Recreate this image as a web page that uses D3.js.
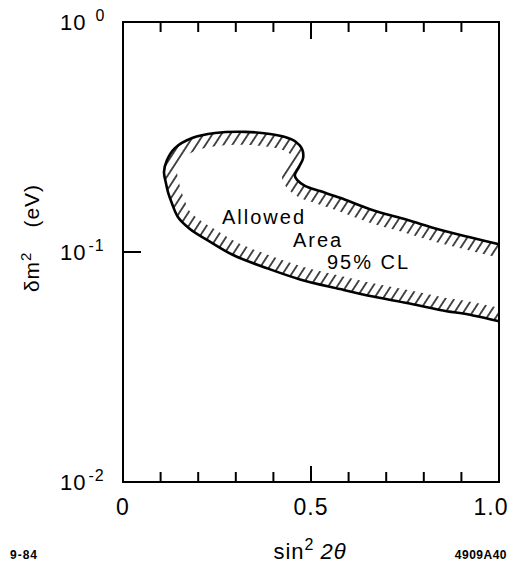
<!DOCTYPE html>
<html>
<head>
<meta charset="utf-8">
<script src="https://cdn.jsdelivr.net/npm/d3@7"></script>
<style>
  html, body { margin: 0; padding: 0; background: #fff; }
  svg { display: block; }
  text { font-family: "Liberation Sans", "DejaVu Sans", sans-serif; fill: #000; }
</style>
</head>
<body>
<svg id="chart" width="525" height="567"></svg>
<script>
// Axis ranges and tick values
const xDomain = [0, 1];
const yDomain = [0.01, 1];
const xMinorTicks = [0.1, 0.2, 0.3, 0.4, 0.6, 0.7, 0.8, 0.9];
const xMajorTicks = [0.5];
const xTickLabels = [{ v: 0, t: "0" }, { v: 0.5, t: "0.5" }, { v: 1.0, t: "1.0" }];
const yTickLabels = [{ v: 1, exp: "0" }, { v: 0.1, exp: "-1" }, { v: 0.01, exp: "-2" }];

// 95% CL allowed contour: upper edge (from sin²2θ = 1 leftwards), around the nose, then lower edge back to sin²2θ = 1
const contourSin2 = [1.0, 0.931, 0.843, 0.755, 0.665, 0.577, 0.524, 0.484, 0.463, 0.457, 0.468, 0.479, 0.476, 0.460, 0.431, 0.391, 0.324, 0.245, 0.184, 0.138, 0.117, 0.109, 0.114, 0.120, 0.130, 0.146, 0.178, 0.231, 0.293, 0.383, 0.471, 0.577, 0.665, 0.755, 0.843, 0.931, 1.0];
const contourDm2  = [0.108, 0.115, 0.125, 0.138, 0.152, 0.172, 0.184, 0.194, 0.206, 0.216, 0.234, 0.256, 0.281, 0.301, 0.316, 0.326, 0.333, 0.329, 0.313, 0.283, 0.251, 0.223, 0.200, 0.181, 0.163, 0.142, 0.126, 0.111, 0.097, 0.085, 0.076, 0.069, 0.064, 0.060, 0.056, 0.053, 0.050];

const svg = d3.select("#chart");
const L = 123, R = 499, T = 22, B = 482;

const x = d3.scaleLinear().domain(xDomain).range([L, R]);
const y = d3.scaleLog().domain(yDomain).range([B, T]);

const pts = contourSin2.map((s, i) => [s, contourDm2[i]]);

// Hatch pattern for the allowed band
const defs = svg.append("defs");
defs.append("pattern")
  .attr("id", "hatch")
  .attr("patternUnits", "userSpaceOnUse")
  .attr("width", 7.5).attr("height", 7.5)
  .attr("patternTransform", "rotate(33)")
  .append("line")
  .attr("x1", 3.75).attr("y1", 0).attr("x2", 3.75).attr("y2", 7.5)
  .attr("stroke", "#000").attr("stroke-width", 1.4);

const line = d3.line()
  .x(d => x(d[0]))
  .y(d => y(d[1]))
  .curve(d3.curveCatmullRom.alpha(0.5));

const openPath = line(pts);
const closedPath = openPath + "Z";

defs.append("clipPath").attr("id", "inside")
  .append("path").attr("d", closedPath);

// Hatched band along the inside of the contour
svg.append("path")
  .attr("d", openPath)
  .attr("fill", "none")
  .attr("stroke", "url(#hatch)")
  .attr("stroke-width", 26)
  .attr("stroke-linecap", "butt")
  .attr("clip-path", "url(#inside)");

// Contour outline
svg.append("path")
  .attr("d", openPath)
  .attr("fill", "none")
  .attr("stroke", "#000")
  .attr("stroke-width", 2.6)
  .attr("stroke-linejoin", "round");

// Frame
svg.append("rect")
  .attr("x", L).attr("y", T)
  .attr("width", R - L).attr("height", B - T)
  .attr("fill", "none").attr("stroke", "#000").attr("stroke-width", 2);

// Ticks on bottom and top axes
const tickG = svg.append("g").attr("stroke", "#000").attr("stroke-width", 2);
xMinorTicks.forEach(v => {
  tickG.append("line").attr("x1", x(v)).attr("x2", x(v)).attr("y1", B).attr("y2", B - 10);
  tickG.append("line").attr("x1", x(v)).attr("x2", x(v)).attr("y1", T).attr("y2", T + 10);
});
xMajorTicks.forEach(v => {
  tickG.append("line").attr("x1", x(v)).attr("x2", x(v)).attr("y1", B).attr("y2", B - 16);
  tickG.append("line").attr("x1", x(v)).attr("x2", x(v)).attr("y1", T).attr("y2", T + 17);
});
// Left axis decade tick
tickG.append("line").attr("x1", L).attr("x2", L + 18).attr("y1", y(0.1)).attr("y2", y(0.1));

// X tick labels
svg.selectAll(".xlab").data(xTickLabels).enter().append("text")
  .attr("class", "xlab")
  .attr("x", d => x(d.v) + (d.v === 1 ? -8 : 0))
  .attr("y", 515)
  .attr("text-anchor", "middle")
  .attr("font-size", 23)
  .attr("letter-spacing", 1)
  .text(d => d.t);

// Y tick labels (powers of ten)
yTickLabels.forEach(d => {
  const t = svg.append("text")
    .attr("x", 60)
    .attr("y", y(d.v) + 8)
    .attr("font-size", 22)
    .attr("letter-spacing", 1);
  t.append("tspan").text("10");
  t.append("tspan").attr("dx", d.exp === "0" ? 9 : 2).attr("dy", -9).attr("font-size", 16).text(d.exp);
});

// Axis titles
const xt = svg.append("text")
  .attr("x", 310).attr("y", 559)
  .attr("text-anchor", "middle")
  .attr("font-size", 22)
  .attr("letter-spacing", 1);
xt.append("tspan").text("sin");
xt.append("tspan").attr("dy", -9).attr("font-size", 16).text("2");
xt.append("tspan").attr("dy", 9).attr("dx", 6).attr("font-style", "italic").text("2θ");

const yt = svg.append("text")
  .attr("transform", "translate(39,238) rotate(-90)")
  .attr("text-anchor", "middle")
  .attr("font-size", 21)
  .attr("letter-spacing", 1);
yt.append("tspan").text("δm");
yt.append("tspan").attr("dy", -8).attr("font-size", 15).text("2");
yt.append("tspan").attr("dy", 8).attr("dx", 24).text("(eV)");

// Region annotation
const note = svg.append("g").attr("font-size", 20).attr("letter-spacing", 2);
note.append("text").attr("x", 222).attr("y", 224).text("Allowed");
note.append("text").attr("x", 293).attr("y", 247).text("Area");
note.append("text").attr("x", 327).attr("y", 269).text("95% CL");

// Figure codes
svg.append("text").attr("x", 10).attr("y", 559)
  .attr("font-size", 12).attr("font-weight", "bold").attr("letter-spacing", 1).text("9-84");
svg.append("text").attr("x", 507).attr("y", 559).attr("text-anchor", "end")
  .attr("font-size", 12).attr("font-weight", "bold").attr("letter-spacing", 0.5).text("4909A40");
</script>
</body>
</html>
